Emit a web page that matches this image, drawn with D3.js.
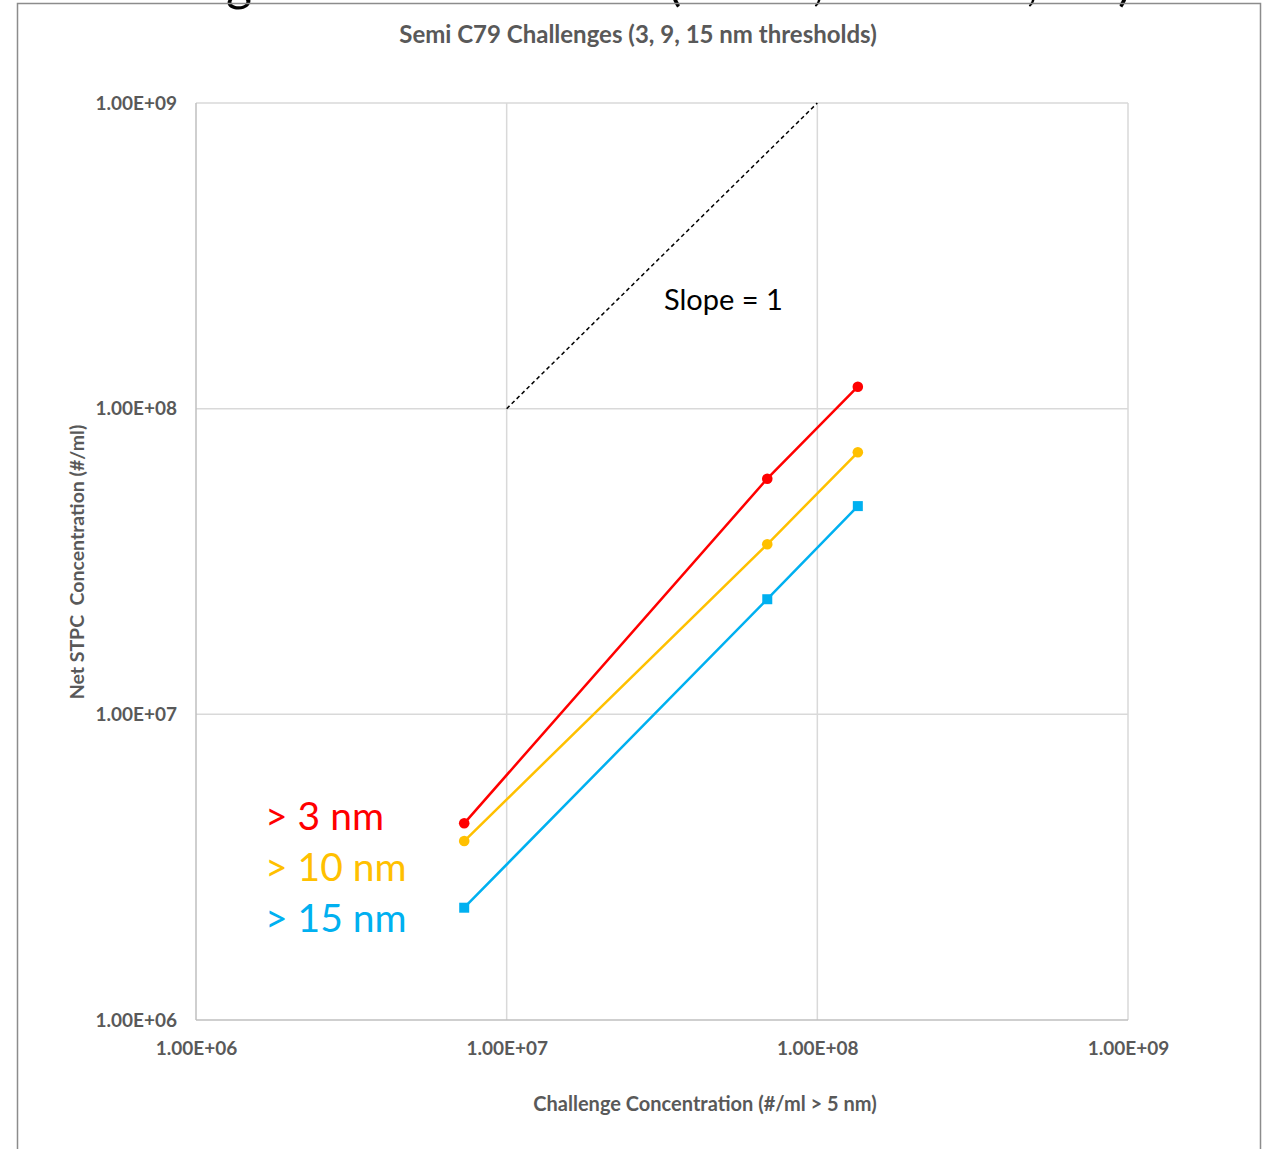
<!DOCTYPE html>
<html><head><meta charset="utf-8">
<script src="https://cdn.jsdelivr.net/npm/d3@7"></script>
<style>body{margin:0;background:#fff;} svg{display:block;}</style>
</head><body>
<script>
const xTicks = [1e6, 1e7, 1e8, 1e9];
const yTicks = [1e6, 1e7, 1e8, 1e9];
const tickLabels = ["1.00E+06", "1.00E+07", "1.00E+08", "1.00E+09"];
const challenge = [7.3e6, 6.9e7, 1.35e8];
const gt3 = [4.4e6, 5.9e7, 1.18e8];
const gt10 = [3.85e6, 3.6e7, 7.2e7];
const gt15 = [2.33e6, 2.38e7, 4.8e7];
const seriesNames = ["> 3 nm", "> 10 nm", "> 15 nm"];
const slopeLine = [[1e7, 1e8], [1e8, 1e9]];

const W = 1271, H = 1149;
const svg = d3.select("body").append("svg").attr("width", W).attr("height", H);
const font = "Lato, 'Open Sans', sans-serif";

// cut-off big title fragments (descenders only visible)
const frag = [["g", 226], ["(", 668], [",", 812], [",", 1026], [")", 1118]];
svg.selectAll("text.frag").data(frag).join("text")
  .attr("x", d => d[1]).attr("y", 0).attr("font-size", 50).attr("font-family", font)
  .attr("fill", "#000").text(d => d[0]);

// frame
svg.append("path").attr("d", "M17.5,1149 L17.5,3.5 L1260.5,3.5 L1260.5,1149")
  .attr("fill", "none").attr("stroke", "#8c8c8c").attr("stroke-width", 1.5);

const x = d3.scaleLog().domain([1e6, 1e9]).range([196, 1128]);
const y = d3.scaleLog().domain([1e6, 1e9]).range([1020, 103]);

const g = svg.append("g");
g.selectAll("line.vg").data(xTicks.slice(1)).join("line")
  .attr("x1", d => x(d)).attr("x2", d => x(d)).attr("y1", y(1e9)).attr("y2", y(1e6))
  .attr("stroke", "#d9d9d9").attr("stroke-width", 1.5);
g.selectAll("line.hg").data(yTicks.slice(1)).join("line")
  .attr("x1", x(1e6)).attr("x2", x(1e9)).attr("y1", d => y(d)).attr("y2", d => y(d))
  .attr("stroke", "#d9d9d9").attr("stroke-width", 1.5);
g.append("line").attr("x1", x(1e6)).attr("x2", x(1e6)).attr("y1", y(1e9)).attr("y2", y(1e6))
  .attr("stroke", "#bfbfbf").attr("stroke-width", 1.5);
g.append("line").attr("x1", x(1e6)).attr("x2", x(1e9)).attr("y1", y(1e6)).attr("y2", y(1e6))
  .attr("stroke", "#bfbfbf").attr("stroke-width", 1.5);

const fmt = d => tickLabels[xTicks.indexOf(d)];
const xAxis = d3.axisBottom(x).tickValues(xTicks).tickFormat(fmt).tickSize(0).tickPadding(22);
const xa = svg.append("g").attr("transform", `translate(0,${y(1e6)})`).call(xAxis);
xa.select(".domain").remove();
xa.selectAll("text").attr("font-size", 19).attr("font-weight", "bold").attr("fill", "#595959").attr("font-family", font);
const yAxis = d3.axisLeft(y).tickValues(yTicks).tickFormat(fmt).tickSize(0).tickPadding(19);
const ya = svg.append("g").attr("transform", `translate(${x(1e6)},0)`).call(yAxis);
ya.select(".domain").remove();
ya.selectAll("text").attr("font-size", 19).attr("font-weight", "bold").attr("fill", "#595959").attr("font-family", font);

svg.append("text").attr("x", 638).attr("y", 43).attr("text-anchor", "middle")
  .attr("font-size", 24).attr("font-weight", "bold").attr("fill", "#595959").attr("font-family", font)
  .text("Semi C79 Challenges (3, 9, 15 nm thresholds)");
svg.append("text").attr("x", 705).attr("y", 1111).attr("text-anchor", "middle")
  .attr("font-size", 20).attr("font-weight", "bold").attr("fill", "#595959").attr("font-family", font)
  .text("Challenge Concentration (#/ml > 5 nm)");
svg.append("text").attr("transform", "translate(84,562) rotate(-90)").attr("text-anchor", "middle")
  .attr("font-size", 19.5).attr("font-weight", "bold").attr("fill", "#595959").attr("font-family", font)
  .attr("xml:space", "preserve")
  .text("Net STPC  Concentration (#/ml)");

const line = d3.line().x(d => x(d[0])).y(d => y(d[1]));
svg.append("path").attr("d", line(slopeLine)).attr("fill", "none")
  .attr("stroke", "#000").attr("stroke-width", 1.5).attr("stroke-dasharray", "4,3");
svg.append("text").attr("x", 664).attr("y", 310).attr("font-size", 29)
  .attr("fill", "#000").attr("font-family", font).text("Slope = 1");

const colors = ["#ff0000", "#ffc000", "#00b0f0"];
const series = [gt3, gt10, gt15];
series.forEach((vals, i) => {
  const pts = vals.map((v, j) => [challenge[j], v]);
  svg.append("path").attr("d", line(pts)).attr("fill", "none")
    .attr("stroke", colors[i]).attr("stroke-width", 2.5);
  if (i < 2) {
    svg.selectAll(null).data(pts).join("circle")
      .attr("cx", d => x(d[0])).attr("cy", d => y(d[1])).attr("r", 5.3).attr("fill", colors[i]);
  } else {
    svg.selectAll(null).data(pts).join("rect")
      .attr("x", d => x(d[0]) - 5).attr("y", d => y(d[1]) - 5)
      .attr("width", 10).attr("height", 10).attr("fill", colors[i]);
  }
});

seriesNames.forEach((n, i) => {
  svg.append("text").attr("x", 265).attr("y", 830 + i * 51).attr("font-size", 39)
    .attr("fill", colors[i]).attr("font-family", font).text(n);
});
</script>
</body></html>
